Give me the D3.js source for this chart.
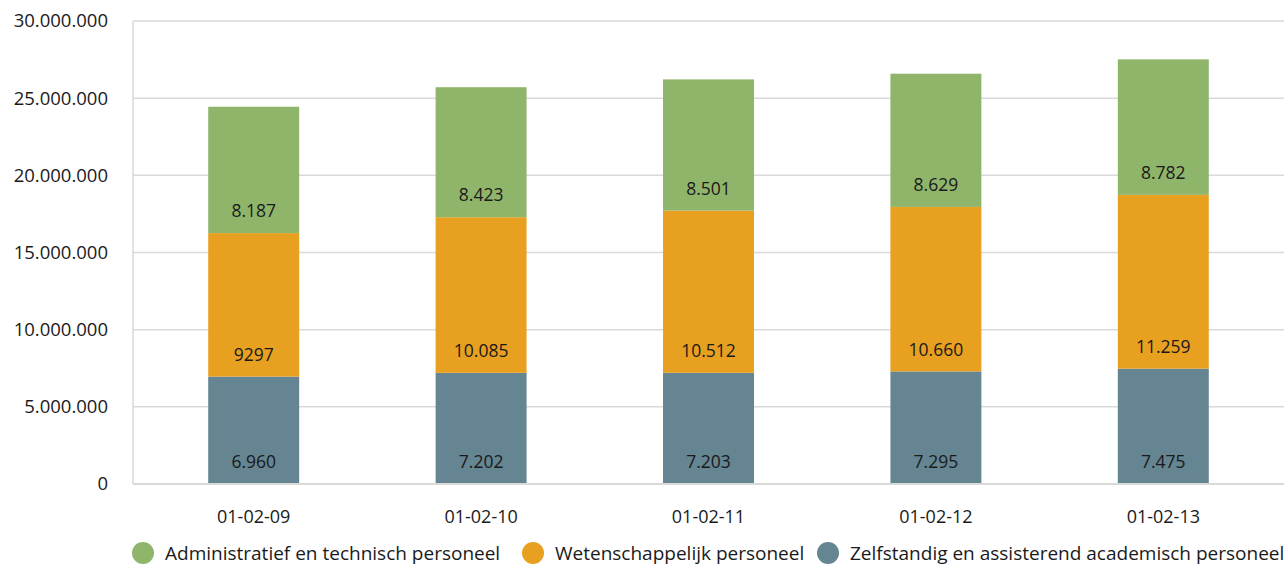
<!DOCTYPE html>
<html><head><meta charset="utf-8">
<script src="https://cdn.jsdelivr.net/npm/d3@7"></script>
<style>body{margin:0;background:#fff}svg{display:block}text{font-family:"Open Sans",sans-serif;fill:#1a1a1a}</style>
</head><body><svg id="c" width="1286" height="566"></svg>
<script>
const categories = ["01-02-09","01-02-10","01-02-11","01-02-12","01-02-13"];
// values in thousands (plotted x1000)
const zelfstandig = [6960, 7202, 7203, 7295, 7475];
const wetenschappelijk = [9297, 10085, 10512, 10660, 11259];
const administratief = [8187, 8423, 8501, 8629, 8782];
const zelfLabels = ["6.960","7.202","7.203","7.295","7.475"];
const wetLabels = ["9297","10.085","10.512","10.660","11.259"];
const admLabels = ["8.187","8.423","8.501","8.629","8.782"];
const yTicks = [0,5000000,10000000,15000000,20000000,25000000,30000000];
const seriesNames = ["Administratief en technisch personeel","Wetenschappelijk personeel","Zelfstandig en assisterend academisch personeel"];
const colors = {zelf:"#648591", wet:"#e8a021", adm:"#8fb56a"};

const svg = d3.select("#c");
const pLeft=133, pRight=1284, pTop=21, pBottom=484;
const x = d3.scaleBand().domain(categories).range([140,1277]).paddingInner(0.6).paddingOuter(0.3);
const y = d3.scaleLinear().domain([0,30000000]).range([pBottom, pTop]);

// gridlines
svg.append("g").selectAll("line").data(yTicks.slice(1)).join("line")
  .attr("x1",pLeft).attr("x2",pRight).attr("y1",d=>y(d)).attr("y2",d=>y(d))
  .attr("stroke","#d9d9d9").attr("stroke-width",1.5);
svg.append("line").attr("x1",pLeft).attr("x2",pLeft).attr("y1",pTop).attr("y2",pBottom).attr("stroke","#d9d9d9").attr("stroke-width",1.5);

const fmt = v => v===0 ? "0" : d3.format(",")(v).replace(/,/g,".");
svg.append("g").selectAll("text").data(yTicks).join("text")
  .attr("x",108).attr("y",d=>y(d)).attr("dy","0.35em").attr("text-anchor","end")
  .attr("font-size",18.5).text(fmt);

const rows = categories.map((c,i)=>({cat:c, zelf:zelfstandig[i]*1000, wet:wetenschappelijk[i]*1000, adm:administratief[i]*1000, i}));
const stack = d3.stack().keys(["zelf","wet","adm"])(rows);
const labelArr = {zelf:zelfLabels, wet:wetLabels, adm:admLabels};

stack.forEach(s=>{
  const g = svg.append("g");
  g.selectAll("rect").data(s).join("rect")
    .attr("x",d=>x(d.data.cat)).attr("width",x.bandwidth())
    .attr("y",d=>y(d[1])).attr("height",d=>y(d[0])-y(d[1]))
    .attr("fill",colors[s.key]);
  g.selectAll("text").data(s).join("text")
    .attr("x",d=>x(d.data.cat)+x.bandwidth()/2).attr("y",d=>y(d[0])-22)
    .attr("dy","0.35em").attr("text-anchor","middle").attr("font-size",17.5)
    .text(d=>labelArr[s.key][d.data.i]);
});

// bottom axis line
svg.append("line").attr("x1",pLeft).attr("x2",pRight).attr("y1",pBottom).attr("y2",pBottom).attr("stroke","#d9d9d9").attr("stroke-width",2);

svg.append("g").selectAll("text").data(categories).join("text")
  .attr("x",d=>x(d)+x.bandwidth()/2).attr("y",517).attr("dy","0.35em")
  .attr("text-anchor","middle").attr("font-size",18).text(d=>d);

// legend
const legX = [143, 533, 828];
const legColors = [colors.adm, colors.wet, colors.zelf];
const lg = svg.append("g");
seriesNames.forEach((n,i)=>{
  lg.append("circle").attr("cx",legX[i]).attr("cy",553).attr("r",11).attr("fill",legColors[i]);
  lg.append("text").attr("x",legX[i]+22).attr("y",553).attr("dy","0.35em").attr("font-size",19).text(n);
});
</script></body></html>
